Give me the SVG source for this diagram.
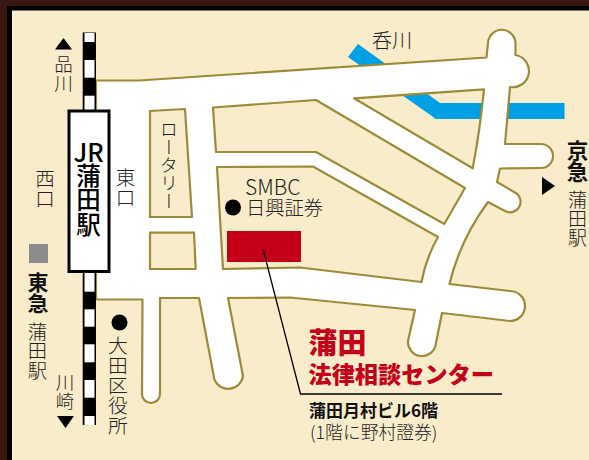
<svg xmlns="http://www.w3.org/2000/svg" width="589" height="460" viewBox="0 0 589 460">
<style>
text{font-family:"Noto Sans CJK JP","Noto Sans",sans-serif;fill:#222;font-weight:300}
.v{writing-mode:vertical-rl}
.b{font-weight:700;fill:#111}
.r{font-weight:900;fill:#c40018}
.k{fill:#000}
.w{fill:#fff}
</style>
<rect id="backdrop" width="589" height="460" fill="#3a1713"/>
<rect id="frame" x="7" y="6" width="582" height="454" fill="#000"/>
<rect id="paper" x="12" y="10.500" width="577" height="449.500" fill="#f9ecca"/>
<polygon id="river" points="358,44 348,57 436,119 564.500,119 564.500,103 440,103" fill="#00a0e4"/>
<path id="roads" fill="#fff" fill-rule="evenodd" stroke="#9c8b3a" stroke-width="2.200" stroke-linejoin="round" d="M96,80.500 L139,80.500 L486.500,57.500 L488,43 A13.500,13.500 0 0 1 515.500,44 L515.500,55 A16,16 0 0 1 510,87 L505,144 L541,144 A12,12 0 0 1 541,168 L500,168.500 L497,182 L515,192.500 A10.500,10.500 0 0 1 505,211 L488,202 Q460,240 449.500,284 L510,291 A15,15 0 0 1 510,321 L442,313 L436,343 A14,14 0 0 1 408,341 L415,310 L290,297.500 L228,298 L243,376 A15,15 0 0 1 214.500,380 L199,298 L160,298 L160,394 A9,9 0 0 1 142,394 L142.500,299.500 L96,299.500 Z M150,111 L185,109 L192,217 L150,217 Z M213,107.500 L316,100 L465,188 L444.300,224 L316,152 L216,152 Z M217,167 L313,166.500 L438,237 Q426,258 421.500,282 L300,267.500 L223,269 Z M150,232.700 L194,232.700 L195.700,269 L150,269 Z M354,98.300 L484,89.300 Q480,130 472.700,168.300 Z"/>
<g id="rail">
<rect x="82.700" y="32.500" width="13.300" height="392.500" class="k"/>
<rect x="84.500" y="33" width="10" height="9" class="w"/>
<rect x="84.500" y="60" width="10" height="17.700" class="w"/>
<rect x="84.500" y="95.700" width="10" height="15" class="w"/>
<rect x="84.500" y="272" width="10" height="19.700" class="w"/>
<rect x="84.500" y="309.300" width="10" height="17.400" class="w"/>
<rect x="84.500" y="344.300" width="10" height="18" class="w"/>
<rect x="84.500" y="380" width="10" height="17.700" class="w"/>
<rect x="84.500" y="416" width="10" height="9" class="w"/>
</g>
<g id="station">
<rect x="69" y="111" width="40" height="160.500" fill="#fff" stroke="#000" stroke-width="3"/>
<text x="88.500" y="162" font-size="25" style="font-weight:500" text-anchor="middle" class="k">JR</text>
<text x="88.500" y="163" font-size="24.500" style="font-weight:500" class="v k">蒲田駅</text>
</g>
<g id="building"><rect x="227" y="231" width="74" height="31" fill="#c40018"/></g>
<g id="leader"><path d="M263,249 L300.500,394 L502,394" fill="none" stroke="#000" stroke-width="1.300"/></g>
<g id="labels">
<polygon points="55,49.500 72,49.500 63.500,38" class="k"/>
<text x="63.500" y="55" font-size="18.500" class="v">品川</text>
<text x="45" y="169" font-size="19.500" class="v">西口</text>
<text x="125.500" y="168" font-size="19.500" class="v">東口</text>
<text x="169" y="120" font-size="18" class="v">ロータリー</text>
<text x="245" y="195" font-size="21">SMBC</text>
<circle cx="233" cy="207.500" r="8" class="k"/>
<text x="246" y="215" font-size="19.300">日興証券</text>
<text x="372" y="48" font-size="20">呑川</text>
<text x="577.500" y="140" font-size="21.500" class="v b">京急</text>
<text x="577.500" y="190" font-size="19" class="v">蒲田駅</text>
<polygon points="542,177 555,186 542,195" class="k"/>
<rect x="29" y="244" width="19" height="19" fill="#8c8c8c"/>
<text x="38" y="272" font-size="21" class="v b">東急</text>
<text x="37.500" y="322" font-size="19.300" class="v">蒲田駅</text>
<text x="65" y="373" font-size="18.500" class="v">川崎</text>
<polygon points="57,416 74,416 65.500,428" class="k"/>
<circle cx="119.500" cy="322.500" r="8" class="k"/>
<text x="118" y="336" font-size="19.800" class="v">大田区役所</text>
<text x="308.500" y="354" font-size="29" class="r">蒲田</text>
<text x="308.500" y="383" font-size="23.200" class="r">法律相談センター</text>
<text x="309" y="417" font-size="17" class="b">蒲田月村ビル6階</text>
<text x="310" y="439" font-size="17.800">(1階に野村證券)</text>
</g>
</svg>
